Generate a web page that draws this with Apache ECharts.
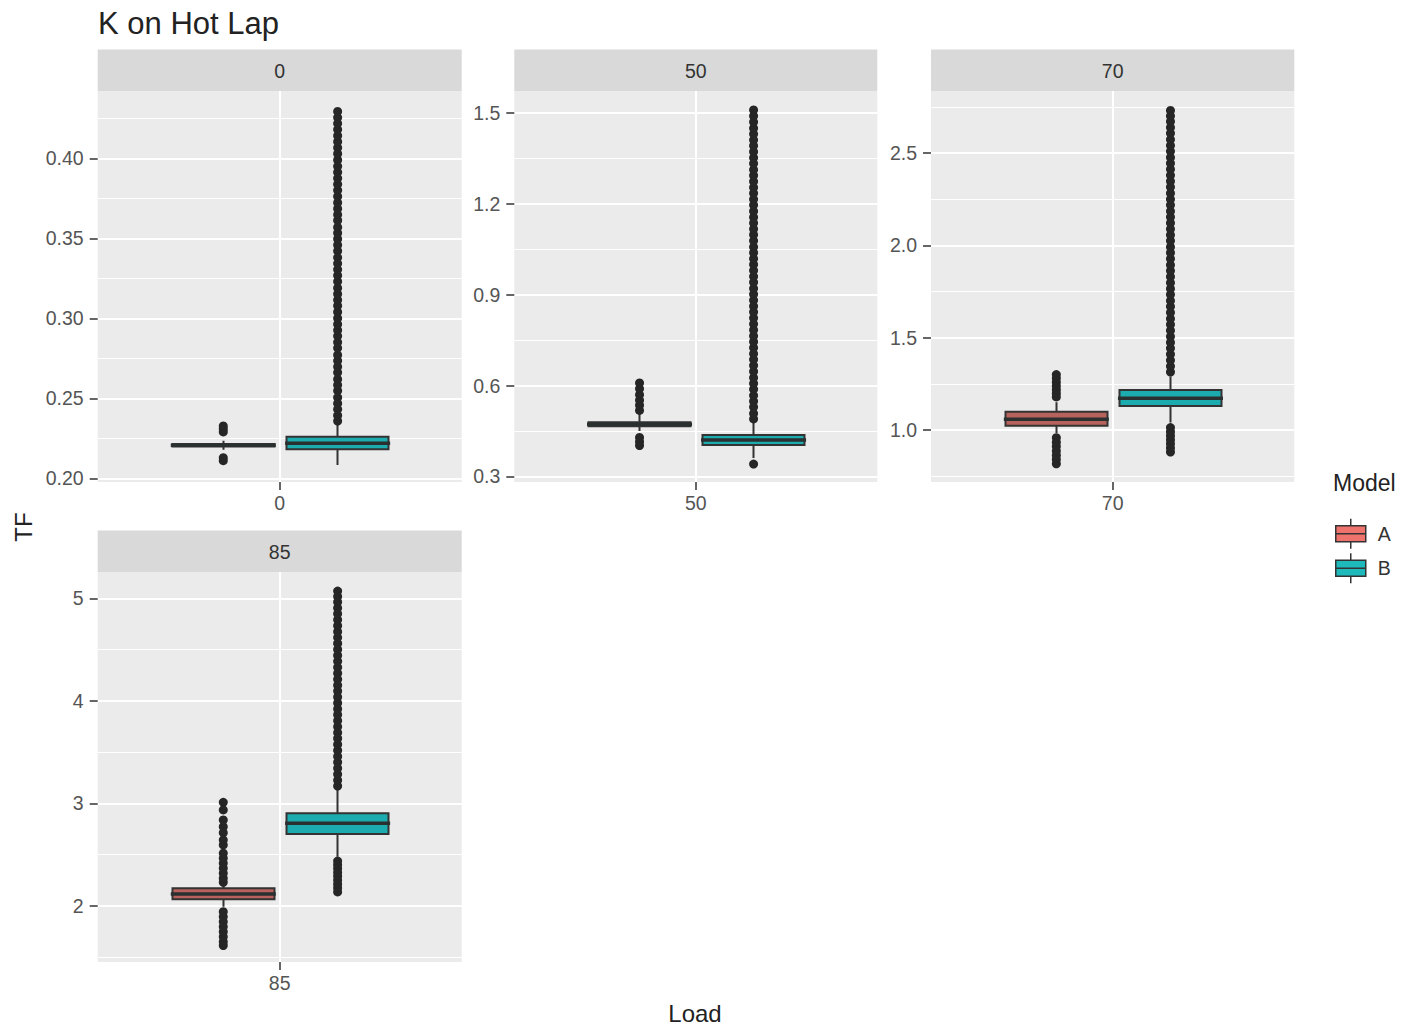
<!DOCTYPE html>
<html><head><meta charset="utf-8">
<script src="https://cdn.jsdelivr.net/npm/echarts@6/dist/echarts.min.js"></script>
<style>html,body{margin:0;padding:0;background:#fff}#c{width:1403px;height:1029px}</style>
</head><body><div id="c"></div>
<script>
// ---------- data ----------
const chartTitle = 'K on Hot Lap';
const facets = ['0', '50', '70', '85'];
const models = ['A', 'B'];
const yMin = [0.1977, 0.2818, 0.7185, 1.450];
const yMax = [0.4421, 1.5726, 2.8354, 5.2588];
const yTicks = [[0.20, 0.25, 0.30, 0.35, 0.40], [0.3, 0.6, 0.9, 1.2, 1.5], [1.0, 1.5, 2.0, 2.5], [2, 3, 4, 5]];
const yTickLabels = [['0.20', '0.25', '0.30', '0.35', '0.40'], ['0.3', '0.6', '0.9', '1.2', '1.5'], ['1.0', '1.5', '2.0', '2.5'], ['2', '3', '4', '5']];
// [lower whisker, Q1, median, Q3, upper whisker]
const statsA = [
  [0.2178, 0.2199, 0.2207, 0.2214, 0.2235],
  [0.450, 0.4655, 0.4725, 0.479, 0.510],
  [0.982, 1.023, 1.058, 1.099, 1.150],
  [1.990, 2.0625, 2.114, 2.170, 2.200]
];
const statsB = [
  [0.2083, 0.2181, 0.2219, 0.2260, 0.2335],
  [0.361, 0.404, 0.4205, 0.437, 0.481],
  [1.040, 1.130, 1.1716, 1.2166, 1.290],
  [2.478, 2.700, 2.805, 2.902, 3.130]
];
const outA0 = [0.2110, 0.2129, 0.2290, 0.2308, 0.2327];
const outA1 = [0.402, 0.415, 0.429, 0.518, 0.535, 0.552, 0.570, 0.590, 0.609];
const outA2 = [0.817, 0.840, 0.864, 0.887, 0.911, 0.934, 0.958, 1.179, 1.198, 1.218, 1.238, 1.259, 1.280, 1.300];
const outA3 = [1.611, 1.648, 1.697, 1.746, 1.795, 1.844, 1.893, 1.941, 2.229, 2.268, 2.316, 2.365, 2.414, 2.463, 2.512, 2.593, 2.642, 2.713, 2.772, 2.837, 2.935, 3.009];
const outB0 = [0.2358, 0.2392, 0.2431, 0.2468, 0.2505, 0.2547, 0.2583, 0.2620, 0.2662, 0.2698, 0.2735, 0.2771, 0.2814, 0.2850, 0.2889, 0.2926, 0.2963, 0.3001, 0.3040, 0.3078, 0.3115, 0.3152, 0.3190, 0.3231, 0.3268, 0.3305, 0.3342, 0.3380, 0.3421, 0.3458, 0.3496, 0.3533, 0.3570, 0.3611, 0.3648, 0.3685, 0.3723, 0.3762, 0.3800, 0.3838, 0.3875, 0.3913, 0.3950, 0.3990, 0.4028, 0.4066, 0.4104, 0.4142, 0.4180, 0.4218, 0.4255, 0.4293];
const outB1 = [0.341, 0.490, 0.508, 0.529, 0.548, 0.567, 0.588, 0.607, 0.626, 0.647, 0.666, 0.686, 0.705, 0.725, 0.745, 0.764, 0.784, 0.803, 0.823, 0.843, 0.862, 0.882, 0.902, 0.921, 0.941, 0.960, 0.980, 1.000, 1.019, 1.039, 1.058, 1.078, 1.098, 1.117, 1.137, 1.156, 1.176, 1.196, 1.215, 1.235, 1.254, 1.274, 1.294, 1.313, 1.333, 1.352, 1.372, 1.392, 1.411, 1.431, 1.450, 1.470, 1.490, 1.510];
const outB2 = [0.881, 0.903, 0.925, 0.947, 0.969, 0.991, 1.013, 1.314, 1.345, 1.377, 1.410, 1.442, 1.474, 1.506, 1.539, 1.571, 1.603, 1.636, 1.668, 1.700, 1.733, 1.765, 1.797, 1.830, 1.862, 1.894, 1.927, 1.959, 1.991, 2.024, 2.056, 2.088, 2.121, 2.153, 2.185, 2.218, 2.250, 2.282, 2.315, 2.347, 2.379, 2.412, 2.444, 2.476, 2.509, 2.541, 2.573, 2.606, 2.638, 2.670, 2.700, 2.730];
const outB3 = [2.134, 2.172, 2.210, 2.249, 2.287, 2.325, 2.362, 2.400, 2.436, 3.169, 3.226, 3.284, 3.342, 3.400, 3.458, 3.516, 3.574, 3.632, 3.690, 3.748, 3.806, 3.864, 3.922, 3.980, 4.038, 4.096, 4.154, 4.212, 4.270, 4.328, 4.386, 4.444, 4.502, 4.560, 4.618, 4.676, 4.734, 4.792, 4.850, 4.908, 4.966, 5.020, 5.073];
const outliersA = [outA0, outA1, outA2, outA3];
const outliersB = [outB0, outB1, outB2, outB3];

// ---------- layout / style ----------
const FONT = "'Liberation Sans', Arial, sans-serif";
const grids = [
  { left: 97.7, top: 91, width: 364, height: 391 },
  { left: 514.3, top: 91, width: 363, height: 391 },
  { left: 931, top: 91, width: 363.3, height: 391 },
  { left: 97.7, top: 572, width: 364, height: 390 }
];
const STRIP_H = 41.5;
const dodge = { A: -0.186, B: 0.191 };
const fillColor = { A: '#B8625D', B: '#1CABAE' };
const legendFill = { A: '#EE736C', B: '#1DB9BB' };
const BOX_W = 103;

const option = {
  animation: false,
  backgroundColor: '#ffffff',
  grid: grids.map(g => Object.assign({ show: true, backgroundColor: '#EBEBEB', borderWidth: 0, containLabel: false }, g)),
  xAxis: grids.map((g, i) => ({
    type: 'value', gridIndex: i, min: -0.6, max: 0.6, position: 'bottom',
    axisLine: { show: false, onZero: false },
    axisTick: { show: true, customValues: [0], length: 8, lineStyle: { color: '#333333', width: 1.5 } },
    axisLabel: { show: true, customValues: [0], formatter: () => facets[i], margin: 11, color: '#555555', fontSize: 19.5, fontFamily: FONT },
    splitLine: { show: true, lineStyle: { color: '#ffffff', width: 2 } },
    minorSplitLine: { show: false }
  })),
  yAxis: grids.map((g, i) => ({
    type: 'value', gridIndex: i, min: yMin[i], max: yMax[i], splitNumber: 5, position: 'left',
    axisLine: { show: false, onZero: false },
    axisTick: { show: true, customValues: yTicks[i], length: 8, lineStyle: { color: '#333333', width: 1.5 } },
    axisLabel: {
      show: true, customValues: yTicks[i], margin: 14, color: '#555555', fontSize: 19.5, fontFamily: FONT,
      formatter: v => { const k = yTicks[i].findIndex(t => Math.abs(t - v) < 1e-9); return k >= 0 ? yTickLabels[i][k] : ''; }
    },
    splitLine: { show: true, lineStyle: { color: '#ffffff', width: 2 } },
    minorTick: { show: false, splitNumber: 2 },
    minorSplitLine: { show: true, lineStyle: { color: '#ffffff', width: 1 } }
  })),
  legend: {
    orient: 'vertical', left: 1330, top: 513, itemWidth: 44, itemHeight: 30, itemGap: 3,
    selectedMode: false,
    textStyle: { fontSize: 19.5, color: '#333333', fontFamily: FONT },
    data: models.map(m => ({
      name: m,
      icon: 'path://M0,7H30V23H0Z M15,0V7 M15,23V30 M0,15H30',
      itemStyle: { color: legendFill[m], borderColor: '#333333', borderWidth: 1.5 }
    }))
  },
  graphic: [],
  series: []
};

// strips
grids.forEach((g, i) => {
  option.graphic.push({
    type: 'rect', shape: { x: g.left, y: g.top - STRIP_H, width: g.width, height: STRIP_H },
    style: { fill: '#D9D9D9' }, silent: true
  });
  option.graphic.push({
    type: 'text', x: g.left + g.width / 2, y: g.top - STRIP_H / 2 + 1, silent: true,
    style: { text: facets[i], fontSize: 19.5, fontFamily: FONT, fill: '#333333', align: 'center', verticalAlign: 'middle', textAlign: 'center', textVerticalAlign: 'middle' }
  });
});
// titles
option.graphic.push({
  type: 'text', x: 98, y: 23, silent: true,
  style: { text: chartTitle, fontSize: 31, fontFamily: FONT, fill: '#222222', align: 'left', verticalAlign: 'middle', textAlign: 'left', textVerticalAlign: 'middle' }
});
option.graphic.push({
  type: 'text', x: 695, y: 1013, silent: true,
  style: { text: 'Load', fontSize: 24, fontFamily: FONT, fill: '#222222', align: 'center', verticalAlign: 'middle', textAlign: 'center', textVerticalAlign: 'middle' }
});
option.graphic.push({
  type: 'text', x: 23, y: 527, rotation: Math.PI / 2, silent: true,
  style: { text: 'TF', fontSize: 24, fontFamily: FONT, fill: '#222222', align: 'center', verticalAlign: 'middle', textAlign: 'center', textVerticalAlign: 'middle' }
});
option.graphic.push({
  type: 'text', x: 1333, y: 483, silent: true,
  style: { text: 'Model', fontSize: 23, fontFamily: FONT, fill: '#222222', align: 'left', verticalAlign: 'middle', textAlign: 'left', textVerticalAlign: 'middle' }
});

// series
grids.forEach((g, i) => {
  models.forEach(m => {
    const s = (m === 'A' ? statsA : statsB)[i];
    const outs = (m === 'A' ? outliersA : outliersB)[i];
    const x = dodge[m];
    // box (Q1..Q3) with whiskers
    option.series.push({
      type: 'candlestick', name: m, xAxisIndex: i, yAxisIndex: i,
      barWidth: BOX_W, silent: true,
      itemStyle: { color: fillColor[m], color0: fillColor[m], borderColor: '#333333', borderColor0: '#333333', borderColorDoji: '#333333', borderWidth: 2 },
      data: [[x, s[1], s[3], s[0], s[4]]]
    });
    // median
    option.series.push({
      type: 'scatter', name: m, xAxisIndex: i, yAxisIndex: i, silent: true,
      symbol: 'rect', symbolSize: [BOX_W + 2, 3.5],
      itemStyle: { color: '#2a2f30', opacity: 1 },
      data: [[x, s[2]]], z: 3
    });
    // outliers
    option.series.push({
      type: 'scatter', name: m, xAxisIndex: i, yAxisIndex: i, silent: true,
      symbol: 'circle', symbolSize: 9,
      itemStyle: { color: '#262626', opacity: 1 },
      data: outs.map(v => [x, v]), z: 4
    });
  });
});

const chart = echarts.init(document.getElementById('c'), null, { renderer: 'svg', width: 1403, height: 1029 });
chart.setOption(option);
</script>
</body></html>
